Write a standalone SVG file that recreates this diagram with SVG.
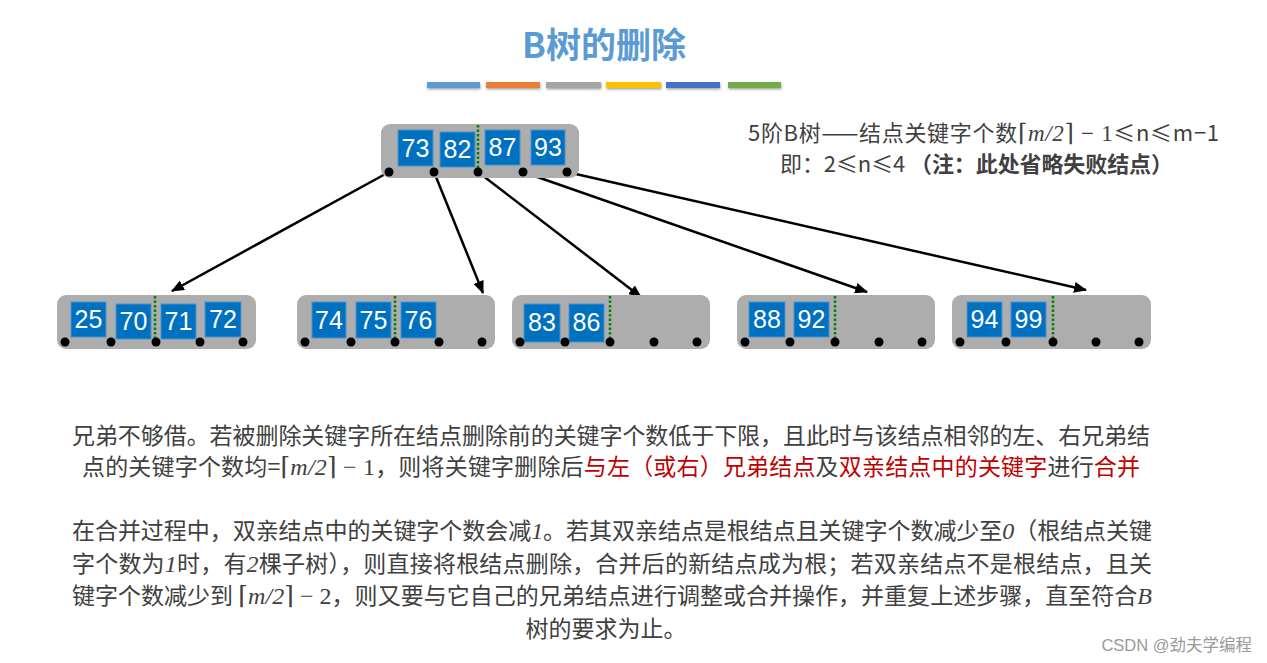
<svg xmlns="http://www.w3.org/2000/svg" width="1267" height="663" viewBox="0 0 1267 663">
<defs>
<style>
.title{font-family:"Noto Sans CJK SC",sans-serif;font-weight:bold;font-size:35px;fill:#5b9bd5;}
.node{fill:#adadad;}
.key{fill:#0070c0;stroke:#4a94d0;stroke-width:1;}
.kt{font-family:"Liberation Sans",Arial,sans-serif;font-size:25px;fill:#ffffff;text-anchor:middle;}
.sep{stroke:#008000;stroke-width:2.5;stroke-dasharray:2.5,2;}
.dot{fill:#000000;}
.edge{stroke:#000000;stroke-width:2.5;fill:none;marker-end:url(#ah);}
.txt{font-family:"Noto Sans CJK SC",sans-serif;fill:#404040;}
.red{fill:#c00000;}
.m{font-family:"Liberation Serif","DejaVu Serif",serif;font-style:italic;}
.mr{font-family:"Liberation Serif","DejaVu Serif",serif;}
</style>
<marker id="ah" viewBox="0 0 12 10" refX="11" refY="5" markerWidth="5.2" markerHeight="4.4" orient="auto" markerUnits="strokeWidth">
<path d="M0,0 L12,5 L0,10 Z" fill="#000"/>
</marker>
<filter id="sh" x="-10%" y="-50%" width="120%" height="250%"><feDropShadow dx="0.5" dy="1.5" stdDeviation="1" flood-color="#000" flood-opacity="0.35"/></filter>
</defs>
<rect width="1267" height="663" fill="#ffffff"/>

<g id="title">
<text class="title" x="604" y="58" text-anchor="middle">B树的删除</text>
<g filter="url(#sh)">
<rect x="427" y="82" width="53" height="6" fill="#5b9bd5"/>
<rect x="486" y="82" width="54" height="6" fill="#ed7d31"/>
<rect x="546" y="82" width="55" height="6" fill="#a5a5a5"/>
<rect x="606" y="82" width="55" height="6" fill="#ffc000"/>
<rect x="666" y="82" width="54" height="6" fill="#4472c4"/>
<rect x="728" y="82" width="53" height="6" fill="#70ad47"/>
</g>
</g>

<g id="note">
<text class="txt" x="748" y="141" font-size="22" textLength="471" lengthAdjust="spacing">5阶B树——结点关键字个数<tspan class="mr" font-size="24">⌈</tspan><tspan class="m" font-size="23">m</tspan><tspan class="m" font-size="23">/2</tspan><tspan class="mr" font-size="24">⌉</tspan><tspan class="mr" font-size="23"> − 1</tspan>≤n≤m−1</text>
<text class="txt" x="780" y="172" font-size="22" textLength="393" lengthAdjust="spacing">即：2≤n≤4 <tspan font-weight="bold">（注：此处省略失败结点）</tspan></text>
</g>

<g id="connectors">
<line class="edge" x1="389" y1="172" x2="172" y2="291"/>
<line class="edge" x1="434" y1="172" x2="483" y2="293"/>
<line class="edge" x1="478" y1="172" x2="641" y2="297"/>
<line class="edge" x1="523" y1="172" x2="867" y2="292"/>
<line class="edge" x1="567" y1="172" x2="1086" y2="290"/>
</g>

<g id="root">
<rect class="node" x="381" y="124" width="198" height="54" rx="9"/>
<rect class="key" x="398" y="130" width="35" height="36"/>
<text class="kt" x="415.5" y="157">73</text>
<rect class="key" x="440" y="132" width="35" height="35"/>
<text class="kt" x="457.5" y="158">82</text>
<rect class="key" x="485" y="130" width="35" height="35"/>
<text class="kt" x="502.5" y="156">87</text>
<rect class="key" x="531" y="130" width="34" height="35"/>
<text class="kt" x="548" y="156">93</text>
<line class="sep" x1="478" y1="125" x2="478" y2="172"/>
<circle class="dot" cx="389" cy="172" r="4.5"/>
<circle class="dot" cx="434" cy="172" r="4.5"/>
<circle class="dot" cx="478" cy="172" r="4.5"/>
<circle class="dot" cx="523" cy="172" r="4.5"/>
<circle class="dot" cx="567" cy="172" r="4.5"/>
</g>

<g id="leaf1">
<rect class="node" x="57" y="295" width="199" height="54" rx="9"/>
<rect class="key" x="71" y="302" width="35" height="35"/>
<text class="kt" x="88.5" y="328">25</text>
<rect class="key" x="116" y="304" width="35" height="35"/>
<text class="kt" x="133.5" y="330">70</text>
<rect class="key" x="161" y="304" width="35" height="35"/>
<text class="kt" x="178.5" y="330">71</text>
<rect class="key" x="205" y="302" width="36" height="35"/>
<text class="kt" x="223" y="328">72</text>
<line class="sep" x1="155" y1="296" x2="155" y2="342"/>
<circle class="dot" cx="65" cy="342" r="4.5"/>
<circle class="dot" cx="111" cy="342" r="4.5"/>
<circle class="dot" cx="156" cy="342" r="4.5"/>
<circle class="dot" cx="200" cy="342" r="4.5"/>
<circle class="dot" cx="243" cy="342" r="4.5"/>
</g>

<g id="leaf2">
<rect class="node" x="297" y="295" width="198" height="54" rx="9"/>
<rect class="key" x="312" y="302" width="34" height="36"/>
<text class="kt" x="329" y="329">74</text>
<rect class="key" x="356" y="302" width="35" height="36"/>
<text class="kt" x="373.5" y="329">75</text>
<rect class="key" x="401" y="302" width="35" height="36"/>
<text class="kt" x="418.5" y="329">76</text>
<line class="sep" x1="395" y1="296" x2="395" y2="342"/>
<circle class="dot" cx="305" cy="342" r="4.5"/>
<circle class="dot" cx="351" cy="342" r="4.5"/>
<circle class="dot" cx="395" cy="342" r="4.5"/>
<circle class="dot" cx="439" cy="342" r="4.5"/>
<circle class="dot" cx="482" cy="342" r="4.5"/>
</g>

<g id="leaf3">
<rect class="node" x="512" y="295" width="198" height="54" rx="9"/>
<rect class="key" x="524" y="304" width="36" height="38"/>
<text class="kt" x="542" y="331">83</text>
<rect class="key" x="569" y="304" width="35" height="38"/>
<text class="kt" x="586.5" y="331">86</text>
<line class="sep" x1="610" y1="296" x2="610" y2="342"/>
<circle class="dot" cx="520" cy="342" r="4.5"/>
<circle class="dot" cx="565" cy="342" r="4.5"/>
<circle class="dot" cx="610" cy="342" r="4.5"/>
<circle class="dot" cx="654" cy="342" r="4.5"/>
<circle class="dot" cx="697" cy="342" r="4.5"/>
</g>

<g id="leaf4">
<rect class="node" x="737" y="295" width="198" height="54" rx="9"/>
<rect class="key" x="749" y="302" width="36" height="35"/>
<text class="kt" x="767" y="328">88</text>
<rect class="key" x="794" y="302" width="35" height="35"/>
<text class="kt" x="811.5" y="328">92</text>
<line class="sep" x1="835" y1="296" x2="835" y2="342"/>
<circle class="dot" cx="745" cy="342" r="4.5"/>
<circle class="dot" cx="790" cy="342" r="4.5"/>
<circle class="dot" cx="835" cy="342" r="4.5"/>
<circle class="dot" cx="879" cy="342" r="4.5"/>
<circle class="dot" cx="922" cy="342" r="4.5"/>
</g>

<g id="leaf5">
<rect class="node" x="952" y="295" width="199" height="54" rx="9"/>
<rect class="key" x="967" y="302" width="35" height="35"/>
<text class="kt" x="984.5" y="328">94</text>
<rect class="key" x="1011" y="302" width="35" height="35"/>
<text class="kt" x="1028.5" y="328">99</text>
<line class="sep" x1="1053" y1="296" x2="1053" y2="342"/>
<circle class="dot" cx="960" cy="342" r="4.5"/>
<circle class="dot" cx="1006" cy="342" r="4.5"/>
<circle class="dot" cx="1053" cy="342" r="4.5"/>
<circle class="dot" cx="1096" cy="342" r="4.5"/>
<circle class="dot" cx="1139" cy="342" r="4.5"/>
</g>

<g id="para1" font-size="23">
<text class="txt" x="72" y="444" textLength="1078" lengthAdjust="spacing">兄弟不够借。若被删除关键字所在结点删除前的关键字个数低于下限，且此时与该结点相邻的左、右兄弟结</text>
<text class="txt" x="82" y="475" textLength="1058" lengthAdjust="spacing">点的关键字个数均=<tspan class="mr" font-size="25">⌈</tspan><tspan class="m" font-size="24">m</tspan><tspan class="m" font-size="24">/2</tspan><tspan class="mr" font-size="25">⌉</tspan><tspan class="mr" font-size="24"> − 1</tspan>，则将关键字删除后<tspan class="red">与左（或右）兄弟结点</tspan>及<tspan class="red">双亲结点中的关键字</tspan>进行<tspan class="red">合并</tspan></text>
</g>

<g id="para2" font-size="23">
<text class="txt" x="72" y="539" textLength="1080" lengthAdjust="spacing">在合并过程中，双亲结点中的关键字个数会减<tspan class="m" font-size="24">1</tspan>。若其双亲结点是根结点且关键字个数减少至<tspan class="m" font-size="24">0</tspan>（根结点关键</text>
<text class="txt" x="72" y="572" textLength="1080" lengthAdjust="spacing">字个数为<tspan class="m" font-size="24">1</tspan>时，有<tspan class="m" font-size="24">2</tspan>棵子树），则直接将根结点删除，合并后的新结点成为根；若双亲结点不是根结点，且关</text>
<text class="txt" x="72" y="604" textLength="1080" lengthAdjust="spacing">键字个数减少到 <tspan class="mr" font-size="25">⌈</tspan><tspan class="m" font-size="24">m</tspan><tspan class="m" font-size="24">/2</tspan><tspan class="mr" font-size="25">⌉</tspan><tspan class="mr" font-size="24"> − 2</tspan>，则又要与它自己的兄弟结点进行调整或合并操作，并重复上述步骤，直至符合<tspan class="m" font-size="24">B</tspan></text>
<text class="txt" x="606" y="637" text-anchor="middle">树的要求为止。</text>
</g>

<g id="watermark">
<text x="1252" y="651" text-anchor="end" font-family="'Liberation Sans','Noto Sans CJK SC',sans-serif" font-size="16.5" fill="#9a9a9a">CSDN @劲夫学编程</text>
</g>
</svg>
